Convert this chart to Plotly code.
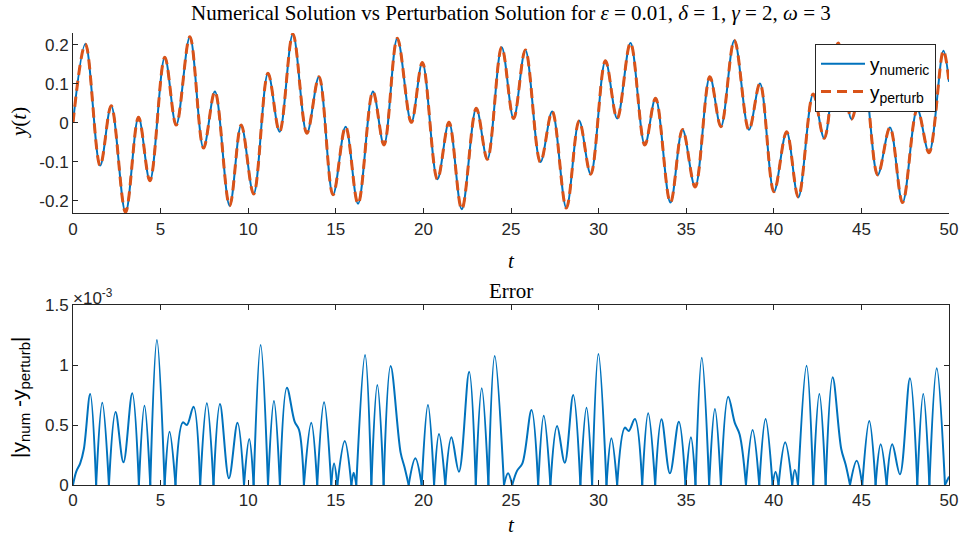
import plotly.graph_objects as go

# ---------------- data ----------------
# top panel: turning points of y(t)
sol_t = [0, 0.71, 1.55, 2.18, 3.0, 3.74, 4.39, 5.24, 5.89, 6.67,
         7.45, 8.10, 8.94, 9.60, 10.31, 11.13, 11.79, 12.55, 13.35, 14.04,
         14.84, 15.56, 16.27, 17.12, 17.75, 18.51, 19.31, 19.94, 20.80, 21.46,
         22.19, 23.02, 23.65, 24.47, 25.15, 25.82, 26.68, 27.35, 28.16, 28.89,
         29.55, 30.39, 31.06, 31.82, 32.64, 33.25, 34.10, 34.79, 35.51, 36.35,
         36.98, 37.75, 38.58, 39.21, 40.01, 40.73, 41.40, 42.25, 42.88, 43.68,
         44.44, 45.10, 45.93, 46.63, 47.35, 48.19, 48.86, 49.68, 50.0]
y_numeric = [0, 0.202, -0.110, 0.044, -0.230, 0.014, -0.149, 0.168, -0.006, 0.221,
             -0.065, 0.080, -0.213, -0.006, -0.183, 0.127, -0.023, 0.228, -0.027, 0.118,
             -0.185, -0.010, -0.208, 0.080, -0.057, 0.217, 0.001, 0.155, -0.145, 0.001,
             -0.222, 0.037, -0.094, 0.194, 0.011, 0.187, -0.101, 0.029, -0.219, 0.005,
             -0.132, 0.159, 0.011, 0.205, -0.057, 0.063, -0.205, -0.017, -0.165, 0.118,
             -0.010, 0.212, -0.018, 0.101, -0.177, -0.023, -0.191, 0.074, -0.040, 0.205,
             0.009, 0.130, -0.134, -0.012, -0.205, 0.035, -0.077, 0.185, 0.105]
y_perturb = [0, 0.202, -0.110, 0.044, -0.230, 0.014, -0.149, 0.168, -0.006, 0.221,
             -0.065, 0.080, -0.213, -0.006, -0.183, 0.127, -0.023, 0.228, -0.027, 0.118,
             -0.185, -0.010, -0.208, 0.080, -0.057, 0.217, 0.001, 0.155, -0.145, 0.001,
             -0.222, 0.037, -0.094, 0.194, 0.011, 0.187, -0.101, 0.029, -0.219, 0.005,
             -0.132, 0.159, 0.011, 0.205, -0.057, 0.063, -0.205, -0.017, -0.165, 0.118,
             -0.010, 0.212, -0.018, 0.101, -0.177, -0.023, -0.191, 0.074, -0.040, 0.205,
             0.009, 0.130, -0.134, -0.012, -0.205, 0.035, -0.077, 0.185, 0.105]

# bottom panel: |y_num - y_perturb| in units of 1e-3
err_t = [0, 0.18, 0.41, 0.62, 0.98, 1.32, 1.67, 2.05, 2.43, 2.88,
         3.38, 3.76, 4.08, 4.41, 4.79, 5.23, 5.51, 5.85, 6.27, 6.50,
         6.88, 7.26, 7.64, 8.02, 8.39, 8.90, 9.39, 9.76, 10.06, 10.31,
         10.71, 11.13, 11.47, 11.81, 12.21, 12.65, 12.90, 13.18, 13.60, 13.94,
         14.33, 14.74, 14.90, 15.09, 15.51, 15.89, 16.02, 16.17, 16.67, 17.03,
         17.37, 17.73, 18.13, 18.70, 18.92, 19.16, 19.54, 19.90, 20.26, 20.61,
         20.89, 21.25, 21.60, 22.03, 22.61, 22.99, 23.33, 23.71, 24.07, 24.60,
         24.83, 25.07, 25.35, 25.65, 26.17, 26.55, 26.87, 27.25, 27.63, 28.07,
         28.55, 28.96, 29.31, 29.63, 29.99, 30.45, 30.73, 31.06, 31.50, 31.72,
         32.07, 32.49, 32.83, 33.23, 33.59, 34.07, 34.58, 34.96, 35.27, 35.53,
         35.89, 36.31, 36.64, 36.98, 37.40, 37.77, 38.05, 38.41, 38.79, 39.17,
         39.53, 39.93, 40.10, 40.27, 40.65, 41.05, 41.20, 41.38, 41.87, 42.25,
         42.60, 42.96, 43.36, 43.85, 44.10, 44.35, 44.73, 45.05, 45.45, 45.81,
         46.10, 46.44, 46.76, 47.20, 47.77, 48.19, 48.53, 48.88, 49.30, 49.77,
         50.0]
err_milli = [0, 0.11, 0.18, 0.30, 0.758, 0, 0.686, 0, 0.608, 0.189,
             0.764, 0, 0.661, 0, 1.208, 0, 0.444, 0, 0.522, 0.50,
             0.653, 0, 0.681, 0, 0.675, 0.056, 0.519, 0, 0.383, 0,
             1.167, 0, 0.70, 0, 0.811, 0.528, 0.46, 0, 0.519, 0,
             0.689, 0, 0.18, 0, 0.367, 0, 0.103, 0, 1.083, 0,
             0.833, 0, 0.992, 0.27, 0.15, 0, 0.222, 0, 0.667, 0,
             0.425, 0, 0.397, 0.111, 0.944, 0, 0.806, 0, 1.075, 0,
             0.097, 0, 0.12, 0.18, 0.625, 0, 0.578, 0, 0.492, 0.186,
             0.75, 0, 0.644, 0, 1.092, 0, 0.389, 0, 0.478, 0.45,
             0.55, 0, 0.597, 0, 0.547, 0.097, 0.528, 0, 0.397, 0,
             1.061, 0, 0.633, 0, 0.736, 0.52, 0.42, 0, 0.458, 0,
             0.55, 0, 0.111, 0, 0.356, 0, 0.125, 0, 0.994, 0,
             0.758, 0, 0.897, 0.30, 0.17, 0, 0.203, 0, 0.533, 0,
             0.339, 0, 0.339, 0.089, 0.889, 0, 0.758, 0, 0.972, 0,
             0.07]

t_ticks = [0, 5, 10, 15, 20, 25, 30, 35, 40, 45, 50]
y_ticks = [-0.2, -0.1, 0, 0.1, 0.2]
y_tick_text = ["-0.2", "-0.1", "0", "0.1", "0.2"]
e_ticks = [0, 0.5, 1, 1.5]
e_tick_text = ["0", "0.5", "1", "1.5"]

# ---------------- figure ----------------
W, H = 965, 538
BLUE = "#0072BD"
ORANGE = "#D95319"
AX = "#262626"
SANS = "Liberation Sans, Arial, sans-serif"
SERIF = "Liberation Serif, Times New Roman, serif"


def sub(s, size):
    return "<sub><span style='font-size:%dpx'>%s</span></sub>" % (size, s)


# split error curve into arches between zeros (cusps stay sharp)
ex, ey = [], []
cx, cy = [], []
for t, v in zip(err_t, err_milli):
    cx.append(t)
    cy.append(v)
    if v == 0 and len(cx) > 1:
        ex += cx + [None]
        ey += cy + [None]
        cx, cy = [t], [v]
ex += cx
ey += cy

fig = go.Figure()
fig.add_trace(go.Scatter(x=sol_t, y=y_numeric, mode="lines", name="y" + sub("numeric", 14),
                         legendgroup="a",
                         line=dict(color=BLUE, width=2, shape="spline", smoothing=1.0),
                         xaxis="x", yaxis="y"))
fig.add_trace(go.Scatter(x=sol_t, y=y_perturb, mode="lines", name="y" + sub("perturb", 14),
                         legendgroup="b",
                         line=dict(color=ORANGE, width=3, shape="spline", smoothing=1.0,
                                   dash="10px,6px"),
                         xaxis="x", yaxis="y"))
fig.add_trace(go.Scatter(x=ex, y=ey, mode="lines", showlegend=False,
                         line=dict(color=BLUE, width=2, shape="spline", smoothing=1.0),
                         connectgaps=False, xaxis="x2", yaxis="y2"))

xdom = [73 / W, 949 / W]
axis_common = dict(showgrid=False, zeroline=False, showline=True, linecolor=AX, linewidth=1,
                   ticks="inside", ticklen=5, tickcolor=AX, tickwidth=1,
                   tickfont=dict(family=SANS, size=17, color=AX))

fig.update_layout(
    width=W, height=H,
    margin=dict(l=0, r=0, t=0, b=0, pad=0, autoexpand=False),
    paper_bgcolor="white", plot_bgcolor="white",
    xaxis=dict(domain=xdom, range=[0, 50], tickvals=t_ticks, anchor="y", automargin=False,
               **axis_common),
    yaxis=dict(domain=[(H - 213.3) / H, (H - 33) / H], range=[-0.2325, 0.2305],
               tickvals=y_ticks, ticktext=y_tick_text, anchor="x", automargin=False,
               **axis_common),
    xaxis2=dict(domain=xdom, range=[0, 50], tickvals=t_ticks, anchor="y2", mirror="ticks",
                automargin=False, **axis_common),
    yaxis2=dict(domain=[(H - 485) / H, (H - 305) / H], range=[0, 1.5],
                tickvals=e_ticks, ticktext=e_tick_text, anchor="x2", mirror="ticks",
                automargin=False, **axis_common),
    legend=dict(x=936 / W, xanchor="right", y=(H - 44) / H, yanchor="top",
                bgcolor="white", bordercolor=AX, borderwidth=1,
                font=dict(family=SANS, size=19, color="black"),
                tracegroupgap=0, itemwidth=44),
    showlegend=True,
)

ann = []
ann.append(dict(text="Numerical Solution vs Perturbation Solution for <i>ε</i> = 0.01, <i>δ</i> = 1, <i>γ</i> = 2, <i>ω</i> = 3",
                x=511 / W, y=(H - 13) / H, xref="paper", yref="paper", showarrow=False,
                xanchor="center", yanchor="middle", font=dict(family=SERIF, size=21, color="black")))
ann.append(dict(text="<i>t</i>", x=511 / W, y=(H - 261) / H, xref="paper", yref="paper",
                showarrow=False, xanchor="center", yanchor="middle",
                font=dict(family=SERIF, size=21, color="black")))
ann.append(dict(text="<i>t</i>", x=511 / W, y=(H - 525) / H, xref="paper", yref="paper",
                showarrow=False, xanchor="center", yanchor="middle",
                font=dict(family=SERIF, size=21, color="black")))
ann.append(dict(text="<i>y</i>(<i>t</i>)", x=19 / W, y=(H - 123) / H, xref="paper", yref="paper",
                showarrow=False, xanchor="center", yanchor="middle", textangle=-90,
                font=dict(family=SERIF, size=21, color="black")))
ann.append(dict(text="Error", x=511 / W, y=(H - 291) / H, xref="paper", yref="paper",
                showarrow=False, xanchor="center", yanchor="middle",
                font=dict(family=SERIF, size=21, color="black")))
ann.append(dict(text="|y" + sub("num", 15) + " -y" + sub("perturb", 15) + "|",
                x=20 / W, y=(H - 398) / H,
                xref="paper", yref="paper", showarrow=False, xanchor="center", yanchor="middle",
                textangle=-90, font=dict(family=SANS, size=21, color="black")))
ann.append(dict(text="×10<sup>-3</sup>", x=71 / W, y=(H - 297) / H, xref="paper", yref="paper",
                showarrow=False, xanchor="left", yanchor="middle",
                font=dict(family=SANS, size=17, color=AX)))
fig.update_layout(annotations=ann)

fig.write_html("out.html")
